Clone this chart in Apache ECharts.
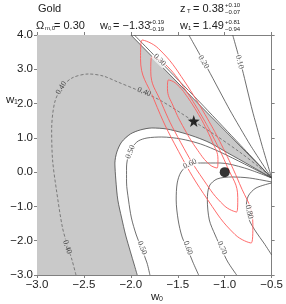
<!DOCTYPE html>
<html><head><meta charset="utf-8">
<script src="https://cdn.jsdelivr.net/npm/echarts@6/dist/echarts.min.js"></script>
<style>html,body{margin:0;padding:0;background:#fff}#c{width:286px;height:304px}</style>
</head><body><div id="c"></div>
<script>
// ---- data (w0, w1) ----
const xTickValues = [-3.0, -2.5, -2.0, -1.5, -1.0, -0.5];
const xTickLabels = ['\u22123.0', '\u22122.5', '\u22122.0', '\u22121.5', '\u22121.0', '\u22120.5'];
const yTickValues = [4, 3, 2, 1, 0, -1, -2, -3];
const yTickLabels = ['4.0', '3.0', '2.0', '1.0', '0.0', '\u22121.0', '\u22122.0', '\u22123.0'];

const contour010 = [[-0.915,4.0],[-0.811,2.979],[-0.707,1.813],[-0.604,0.792],[-0.5,-0.17]];
const contour020 = [[-1.382,4.0],[-1.174,2.979],[-0.946,1.813],[-0.728,0.792],[-0.5,-0.17]];
const contour030 = [[-1.963,4.0],[-1.620,3.038],[-1.257,2.017],[-0.894,0.967],[-0.5,-0.17]];
const grayUpper = [[-2.0,4.0],[-1.257,1.929],[-0.5,-0.17]];
const grayLower = [[-0.5,-0.17],[-0.739,0.209],[-0.967,0.559],[-1.154,0.85],[-1.309,1.025],[-1.444,1.142],[-1.62,1.259],[-1.776,1.288],[-1.9,1.23],[-2.004,1.113],[-2.098,0.88],[-2.149,0.588],[-2.17,0.267],[-2.16,-0.229],[-2.139,-0.812],[-2.098,-1.337],[-2.056,-1.833],[-2.004,-2.328],[-1.963,-2.708],[-1.932,-3.0]];
const contour040dashed = [[-2.585,-3.0],[-2.627,-2.562],[-2.678,-2.124],[-2.73,-1.599],[-2.793,-0.52],[-2.834,0.355],[-2.844,1.23],[-2.813,2.017],[-2.741,2.454],[-2.627,2.746],[-2.45,2.863],[-2.295,2.804],[-2.139,2.629],[-1.932,2.396],[-1.693,2.104],[-1.34,1.5],[-1.102,1.084],[-0.842,0.588],[-0.635,0.15],[-0.5,-0.17]];
const contour050 = [[-0.5,-0.17],[-0.79,0.238],[-1.05,0.588],[-1.257,0.821],[-1.465,0.967],[-1.672,1.025],[-1.828,0.996],[-1.921,0.909],[-1.983,0.734],[-2.025,0.5],[-2.046,0.15],[-2.046,-0.287],[-2.025,-0.812],[-1.994,-1.337],[-1.942,-1.833],[-1.88,-2.27],[-1.828,-2.649],[-1.797,-3.0]];
const contour060 = [[-0.5,-0.17],[-0.79,0.121],[-1.05,0.267],[-1.257,0.267],[-1.382,0.209],[-1.465,0.005],[-1.506,-0.316],[-1.517,-0.812],[-1.496,-1.395],[-1.454,-1.891],[-1.392,-2.27],[-1.34,-2.62],[-1.278,-3.0]];
const contour070 = [[-0.5,-0.287],[-0.739,-0.17],[-0.925,-0.141],[-1.081,-0.199],[-1.164,-0.404],[-1.185,-0.812],[-1.164,-1.395],[-1.102,-1.833],[-1.029,-2.27],[-0.967,-2.62],[-0.873,-3.0]];
const contour080 = [[-0.5,-0.316],[-0.666,-0.462],[-0.749,-0.695],[-0.77,-1.016],[-0.739,-1.395],[-0.666,-1.745],[-0.583,-2.066],[-0.5,-2.416]];

const ellipseInner = [[-1.25,1.547],[-1.133,0.888],[-1.072,0.366],[-1.081,0.121],[-1.161,0.22],[-1.288,0.638],[-1.43,1.262],[-1.548,1.921],[-1.61,2.443],[-1.6,2.688],[-1.52,2.589],[-1.392,2.171],[-1.25,1.547]];
const ellipseMid = [[-1.18,1.326],[-0.974,0.165],[-0.861,-0.745],[-0.873,-1.162],[-1.006,-0.975],[-1.224,-0.232],[-1.47,0.871],[-1.676,2.032],[-1.788,2.941],[-1.776,3.358],[-1.643,3.172],[-1.425,2.428],[-1.18,1.326]];
const ellipseOuter = [[-1.108,1.189],[-0.843,-0.331],[-0.7,-1.521],[-0.718,-2.066],[-0.891,-1.818],[-1.173,-0.841],[-1.49,0.597],[-1.754,2.119],[-1.897,3.309],[-1.88,3.854],[-1.706,3.606],[-1.424,2.629],[-1.108,1.189]];

const bestFit = [-1.33, 1.49];
const lambdaPoint = [-1.0, 0.0];

const contourLabelText = ['0.10','0.20','0.30','0.40','0.40','0.40','0.50','0.50','0.60','0.60','0.70','0.80'];
const contourLabelPos = [[-0.842,3.213],[-1.226,3.213],[-1.693,3.271],[-2.741,2.454],[-1.859,2.338],[-2.678,-2.183],[-2.004,0.588],[-1.88,-2.212],[-1.371,0.238],[-1.392,-2.212],[-1.029,-2.212],[-0.739,-1.162]];
const contourLabelAngle = [-75,-59,-45,58,-22,-72,68,-68,25,-70,-65,-78];
const contourLabelOnGray = [false,false,false,true,true,true,false,false,false,false,false,false];

// ---- chart ----
const GRAY = '#c9c9c9';
const FONT = '"Liberation Sans", Arial, sans-serif';
const chart = echarts.init(document.getElementById('c'));
const grayPoly = [[-3,4]].concat(grayUpper, grayLower.slice(1), [[-3,-3]]);

function cline(data, dashed, smooth) {
  return {type:'line', data:data, smooth: smooth===undefined?0.3:smooth, symbol:'none', silent:true,
    lineStyle:{color: dashed ? '#666' : '#4a4a4a', width:0.8, type: dashed ? [3,2] : 'solid'}, z:3, animation:false};
}
function rline(data) {
  return {type:'line', data:data, smooth:0.45, symbol:'none', silent:true,
    lineStyle:{color:'#ff5a5a', width:0.9}, z:4, animation:false};
}
const fmtX = v => { const i = xTickValues.findIndex(t => Math.abs(t - v) < 1e-6); return i >= 0 ? xTickLabels[i] : ''; };
const fmtY = v => { const i = yTickValues.findIndex(t => Math.abs(t - v) < 1e-6); return i >= 0 ? yTickLabels[i] : ''; };
const axisCommon = {type:'value', splitLine:{show:false},
  axisLine:{show:true, onZero:false, lineStyle:{color:'#808080', width:1}},
  axisTick:{show:true, inside:false, length:3, lineStyle:{color:'#808080'}}};

const option = {
  animation:false,
  grid:{left:37, top:35, right:8, bottom:29, containLabel:false},
  xAxis:[
    Object.assign({}, axisCommon, {position:'bottom', min:-3, max:-0.5, interval:0.5,
      axisLabel:{formatter:fmtX, fontFamily:FONT, fontSize:11.5, color:'#222', margin:4}}),
    Object.assign({}, axisCommon, {position:'top', min:-3, max:-0.5, interval:0.5, axisLabel:{show:false}})
  ],
  yAxis:[
    Object.assign({}, axisCommon, {position:'left', min:-3, max:4, interval:1,
      axisLabel:{formatter:fmtY, fontFamily:FONT, fontSize:11.5, color:'#222', margin:4}}),
    Object.assign({}, axisCommon, {position:'right', min:-3, max:4, interval:1, axisLabel:{show:false}})
  ],
  series:[
    {type:'custom', coordinateSystem:'cartesian2d', data:[[-3,4]], z:1, silent:true, clip:true,
      renderItem:(params, api) => ({type:'polygon', shape:{points: grayPoly.map(p => api.coord(p))},
        style:{fill:GRAY, stroke:null}})},
    cline(contour010, false, 0.2),
    cline(contour020, false, 0.2),
    cline(contour030, false, 0.2),
    cline(grayUpper, false, 0),
    cline(grayLower, false),
    cline(contour040dashed, true),
    cline(contour050, false),
    cline(contour060, false),
    cline(contour070, false),
    cline(contour080, false),
    rline(ellipseOuter),
    rline(ellipseMid),
    rline(ellipseInner),
    {type:'scatter', symbolSize:1, itemStyle:{color:'transparent'}, z:6, silent:true,
      data: contourLabelText.map((t, i) => ({name:t, value:contourLabelPos[i],
        label:{rotate:contourLabelAngle[i], backgroundColor: contourLabelOnGray[i] ? GRAY : '#fff'}})),
      label:{show:true, position:'inside', formatter:p => p.name, fontFamily:'"Liberation Serif", serif',
        fontSize:8, color:'#222', padding:[0,1], align:'center', verticalAlign:'middle'}},
    {type:'scatter', data:[bestFit], z:7, silent:true, symbolSize:12,
      symbol:'path://M0,-10 L2.35,-3.24 9.51,-3.09 3.8,1.24 5.88,8.09 0,4 -5.88,8.09 -3.8,1.24 -9.51,-3.09 -2.35,-3.24Z',
      itemStyle:{color:'#000'}},
    {type:'scatter', data:[lambdaPoint], z:7, silent:true, symbol:'circle', symbolSize:10, itemStyle:{color:'#000'}}
  ],
  graphic:[
    {type:'text', left:38, top:3, style:{text:'Gold', font:'11px '+FONT, fill:'#222'}},
    {type:'text', left:180, top:3, style:{text:'z', font:'11px '+FONT, fill:'#222'}},
    {type:'text', left:187, top:8, style:{text:'T', font:'6px '+FONT, fill:'#222'}},
    {type:'text', left:193, top:3, style:{text:'= 0.38', font:'11px '+FONT, fill:'#222'}},
    {type:'text', left:225, top:2, style:{text:'+0.10', font:'6px '+FONT, fill:'#222'}},
    {type:'text', left:225, top:9, style:{text:'\u22120.07', font:'6px '+FONT, fill:'#222'}},

    {type:'text', left:36, top:20, style:{text:'\u03A9', font:'11px '+FONT, fill:'#222'}},
    {type:'text', left:45, top:25, style:{text:'m,0', font:'6px '+FONT, fill:'#222'}},
    {type:'text', left:54, top:20, style:{text:'= 0.30', font:'11px '+FONT, fill:'#222'}},

    {type:'text', left:100, top:20, style:{text:'w', font:'11px '+FONT, fill:'#222'}},
    {type:'text', left:108, top:25, style:{text:'0', font:'6px '+FONT, fill:'#222'}},
    {type:'text', left:113, top:20, style:{text:'= \u22121.33', font:'11px '+FONT, fill:'#222'}},
    {type:'text', left:149, top:19, style:{text:'+0.19', font:'6px '+FONT, fill:'#222'}},
    {type:'text', left:149, top:26, style:{text:'\u22120.19', font:'6px '+FONT, fill:'#222'}},

    {type:'text', left:180, top:20, style:{text:'w', font:'11px '+FONT, fill:'#222'}},
    {type:'text', left:188, top:25, style:{text:'1', font:'6px '+FONT, fill:'#222'}},
    {type:'text', left:193, top:20, style:{text:'= 1.49', font:'11px '+FONT, fill:'#222'}},
    {type:'text', left:225, top:19, style:{text:'+0.81', font:'6px '+FONT, fill:'#222'}},
    {type:'text', left:225, top:26, style:{text:'\u22120.94', font:'6px '+FONT, fill:'#222'}},

    {type:'text', left:151, top:291, style:{text:'w', font:'11.5px '+FONT, fill:'#222'}},
    {type:'text', left:159, top:296, style:{text:'0', font:'7px '+FONT, fill:'#222'}},
    {type:'text', left:6, top:94, style:{text:'w', font:'11.5px '+FONT, fill:'#222'}},
    {type:'text', left:14, top:99, style:{text:'1', font:'7px '+FONT, fill:'#222'}}
  ]
};
chart.setOption(option);
</script>
</body></html>
